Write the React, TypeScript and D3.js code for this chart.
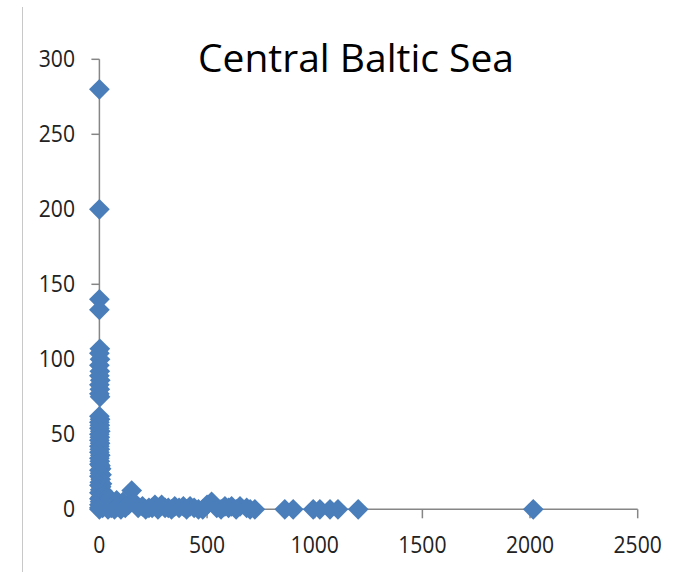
import React from "react";
import * as d3 from "d3";

const title = "Central Baltic Sea";
const xTicks = [0, 500, 1000, 1500, 2000, 2500];
const yTicks = [0, 50, 100, 150, 200, 250, 300];

// series: x values
const xValues = [
  0, 0, 0, 0, 2, 0, 3, 0, 2, 0, 4, 0, 2, 0, 3,
  0, 3, 0, 2, 0, 4, 0, 2, 0, 3, 0, 2, 0, 4, 0, 2, 0, 5, 8, 0, 3, 10, 0, 6, 2, 12, 0, 8, 4, 15, 0, 10, 5, 20, 0, 12, 25, 3, 18, 0, 8, 30, 0, 15,
  50, 80, 110,
  0, 40, 55, 70, 85, 100, 120, 135, 150, 165, 180, 200, 230, 258, 289, 320, 350, 390, 421, 460, 500, 521, 545, 583, 614, 653, 684, 722,
  215, 245, 272, 305, 335, 370, 405, 440, 480, 565, 600, 635, 700,
  861, 900, 993, 1024, 1071, 1108, 1202, 2015,
];
// series: y values
const yValues = [
  280, 200, 140, 133, 107, 104, 100, 96, 92, 89, 86, 83, 80, 77, 75,
  62, 60, 58, 56, 54, 52, 50, 48, 46, 44, 42, 40, 38, 36, 34, 32, 30, 29, 27, 26, 24, 23, 22, 20, 18, 17, 16, 15, 13, 12, 11, 10, 8, 9, 7, 6, 6, 5, 4, 3, 2, 3, 1, 1,
  7, 6, 5,
  0, 0, 1, 0, 2, 0, 1, 3, 12.5, 4, 1, 2, 1, 3, 3, 1, 2, 2, 2, 0, 3, 5, 1, 2, 2, 2, 1, 0,
  0, 1, 0, 1, 0, 1, 0, 1, 0, 0, 1, 0, 0,
  0, 0, 0, 0, 0, 0, 0, 0,
];

const W = 689;
const H = 572;
const FONT = "'Open Sans', 'Liberation Sans', sans-serif";

export default function App() {
  const x = d3.scaleLinear().domain([0, 2500]).range([99.4, 637.7]);
  const y = d3.scaleLinear().domain([0, 300]).range([509.3, 59.3]);
  const diamond = d3.symbol(d3.symbolSquare, 215)() as string;
  const axisColor = "#868686";
  const x0 = x(0);
  const y0 = y(0);
  return (
    <svg
      width={W}
      height={H}
      style={{ position: "absolute", left: 0, top: 0, background: "#fff" }}
    >
      <rect x={0} y={0} width={W} height={H} fill="#fff" />
      <line x1={22.5} x2={22.5} y1={7} y2={H} stroke="#c8c8c8" strokeWidth={1} />
      <text
        x={356}
        y={72}
        textAnchor="middle"
        fontFamily={FONT}
        fontSize={38}
        textLength={316}
        lengthAdjust="spacingAndGlyphs"
        fill="#000"
      >
        {title}
      </text>
      {/* y axis */}
      <line x1={x0} x2={x0} y1={y(300)} y2={y0} stroke={axisColor} strokeWidth={1.5} />
      {yTicks.map((t) => (
        <g key={"y" + t}>
          <line x1={x0 - 8} x2={x0} y1={y(t)} y2={y(t)} stroke={axisColor} strokeWidth={1.5} />
          <text
            transform={`translate(75,${y(t) + 8}) scale(0.88,1)`}
            textAnchor="end"
            fontFamily={FONT}
            fontSize={24}
            fill="#222"
          >
            {t}
          </text>
        </g>
      ))}
      {/* x axis */}
      <line x1={x0} x2={x(2500)} y1={y0} y2={y0} stroke={axisColor} strokeWidth={1.5} />
      {xTicks.map((t) => (
        <g key={"x" + t}>
          <line x1={x(t)} x2={x(t)} y1={y0} y2={y0 + 9} stroke={axisColor} strokeWidth={1.5} />
          <text
            transform={`translate(${x(t)},553) scale(0.88,1)`}
            textAnchor="middle"
            fontFamily={FONT}
            fontSize={24}
            fill="#222"
          >
            {t}
          </text>
        </g>
      ))}
      {/* points */}
      {xValues.map((xv, i) => (
        <path
          key={"p" + i}
          d={diamond}
          transform={`translate(${x(xv)},${y(yValues[i])}) rotate(45)`}
          fill="#4A7EBB"
        />
      ))}
    </svg>
  );
}
